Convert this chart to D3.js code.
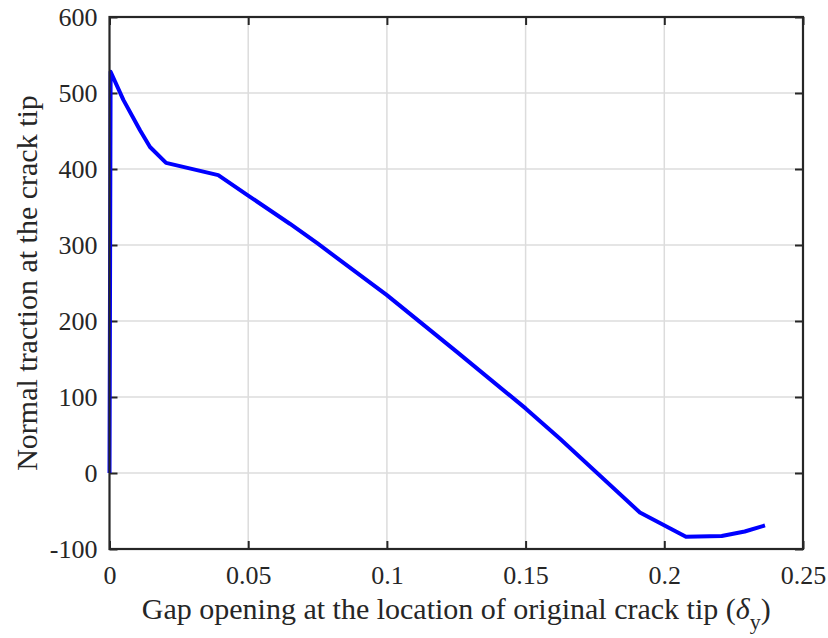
<!DOCTYPE html>
<html><head><meta charset="utf-8">
<script src="https://cdn.jsdelivr.net/npm/d3@7"></script>
<style>body{margin:0;background:#fff}svg{display:block}text{font-family:"Liberation Serif","Times New Roman",serif;fill:#262626}</style>
</head><body>
<svg id="c" width="828" height="638"></svg>
<script>
const gapOpening = [0, 0.0004, 0.005, 0.011, 0.0146, 0.0204, 0.0392, 0.05, 0.065, 0.075, 0.1, 0.125, 0.15, 0.1624, 0.1912, 0.2078, 0.2207, 0.229, 0.2363];
const normalTraction = [0, 528, 491, 451, 429, 408, 392, 365, 328, 302, 234, 160, 85, 45, -52, -84, -83, -77, -69];
const xTicks = [0, 0.05, 0.1, 0.15, 0.2, 0.25];
const yTicks = [-100, 0, 100, 200, 300, 400, 500, 600];
const xTickLabels = ["0", "0.05", "0.1", "0.15", "0.2", "0.25"];
const yTickLabels = ["-100", "0", "100", "200", "300", "400", "500", "600"];

const m = {l: 109.5, r: 803, t: 17, b: 549};
const svg = d3.select("#c");
const x = d3.scaleLinear().domain([0, 0.25]).range([m.l, m.r]);
const y = d3.scaleLinear().domain([-100, 600]).range([m.b, m.t]);
const fs = 26, lfs = 30;

// grid
const g = svg.append("g");
g.selectAll(".gx").data(xTicks.slice(1, -1)).join("line")
  .attr("x1", d => x(d)).attr("x2", d => x(d)).attr("y1", m.t).attr("y2", m.b)
  .attr("stroke", "#dcdcdc").attr("stroke-width", 1.5);
g.selectAll(".gy").data(yTicks.slice(1, -1)).join("line")
  .attr("y1", d => y(d)).attr("y2", d => y(d)).attr("x1", m.l).attr("x2", m.r)
  .attr("stroke", "#dcdcdc").attr("stroke-width", 1.5);

// axes with inward ticks
const tl = 8;
const axB = svg.append("g").attr("transform", `translate(0,${m.b})`)
  .call(d3.axisBottom(x).tickValues(xTicks).tickFormat((d, i) => xTickLabels[i]).tickSizeInner(-tl).tickSizeOuter(0).tickPadding(17));
const axT = svg.append("g").attr("transform", `translate(0,${m.t})`)
  .call(d3.axisTop(x).tickValues(xTicks).tickFormat("").tickSizeInner(-tl).tickSizeOuter(0));
const axL = svg.append("g").attr("transform", `translate(${m.l},0)`)
  .call(d3.axisLeft(y).tickValues(yTicks).tickFormat((d, i) => yTickLabels[i]).tickSizeInner(-tl).tickSizeOuter(0).tickPadding(12));
const axR = svg.append("g").attr("transform", `translate(${m.r},0)`)
  .call(d3.axisRight(y).tickValues(yTicks).tickFormat("").tickSizeInner(-tl).tickSizeOuter(0));
[axB, axT, axL, axR].forEach(a => {
  a.attr("font-family", null);
  a.select(".domain").remove();
  a.selectAll(".tick line").attr("stroke", "#262626").attr("stroke-width", 2);
  a.selectAll("text").attr("font-size", fs).attr("font-family", "Liberation Serif").attr("fill", "#262626");
});

// data line
const pts = gapOpening.map((v, i) => [v, normalTraction[i]]);
svg.append("path").datum(pts)
  .attr("d", d3.line().x(d => x(d[0])).y(d => y(d[1])))
  .attr("fill", "none").attr("stroke", "#0000ff").attr("stroke-width", 4).attr("stroke-linejoin", "round");

// box
svg.append("rect").attr("x", m.l).attr("y", m.t).attr("width", m.r - m.l).attr("height", m.b - m.t)
  .attr("fill", "none").attr("stroke", "#262626").attr("stroke-width", 2.2);

// labels
const xl = svg.append("text").attr("x", (m.l + m.r) / 2).attr("y", 619).attr("text-anchor", "middle").attr("font-size", lfs);
xl.append("tspan").text("Gap opening at the location of original crack tip (");
xl.append("tspan").attr("font-style", "italic").text("δ");
xl.append("tspan").attr("font-size", 22).attr("dy", 10).text("y");
xl.append("tspan").attr("dy", -10).text(")");

svg.append("text").attr("transform", `translate(37,${(m.t + m.b) / 2}) rotate(-90)`)
  .attr("text-anchor", "middle").attr("font-size", lfs).text("Normal traction at the crack tip");
</script>
</body></html>
